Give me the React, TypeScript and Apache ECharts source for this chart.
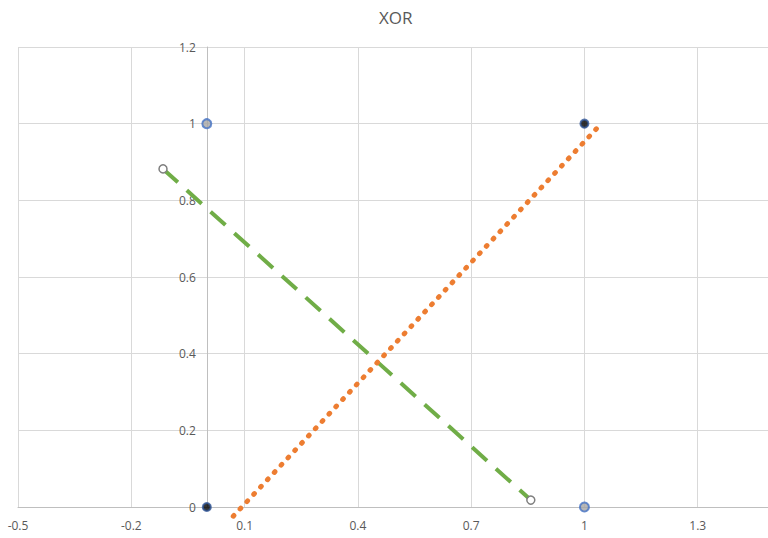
import React, { useEffect, useRef } from "react";
import * as echarts from "echarts";

// XOR truth-table points
const classOne: number[][] = [
  [0, 1],
  [1, 0],
];
const classZero: number[][] = [
  [0, 0],
  [1, 1],
];
// decision boundary lines
const greenBoundary: number[][] = [
  [-0.116, 0.882],
  [0.858, 0.018],
];
const orangeBoundary: number[][] = [
  [0.07, -0.024],
  [1.035, 0.99],
];

const xMin = -0.5;
const xMax = 1.6;
const xStep = 0.3;
const yMin = 0;
const yMax = 1.2;
const yStep = 0.2;

export default function App() {
  const ref = useRef<HTMLDivElement>(null);
  useEffect(() => {
    if (!ref.current) return;
    const chart = echarts.init(ref.current, undefined, { renderer: "svg" });
    const labelFont = { fontFamily: "Open Sans, Noto Sans, sans-serif", fontSize: 12, color: "#595959" };
    const gridLeft = 18;
    const gridRight = 1;
    const width = 812;
    const plotW = width - gridLeft - gridRight;
    const zeroOffset = ((0 - xMin) / (xMax - xMin)) * plotW;
    chart.setOption({
      animation: false,
      backgroundColor: "#ffffff",
      title: {
        text: "XOR",
        left: 374,
        top: 4,
        textStyle: { fontFamily: "Open Sans, Noto Sans, sans-serif", fontSize: 17, fontWeight: "normal", color: "#595959" },
      },
      grid: {
        left: gridLeft,
        right: gridRight,
        top: 47,
        bottom: 31,
        containLabel: false,
        outerBoundsMode: "none",
      },
      xAxis: {
        type: "value",
        min: xMin,
        max: xMax,
        interval: xStep,
        axisLine: { show: true, onZero: true, lineStyle: { color: "#bfbfbf", width: 1 } },
        axisTick: { show: false },
        axisLabel: {
          ...labelFont,
          margin: 12,
          showMaxLabel: false,
          formatter: (v: number) => String(Math.round(v * 10) / 10),
        },
        splitLine: { show: true, lineStyle: { color: "#d9d9d9", width: 1 } },
      },
      yAxis: {
        type: "value",
        min: yMin,
        max: yMax,
        interval: yStep,
        position: "left",
        offset: -zeroOffset,
        axisLine: { show: true, onZero: false, lineStyle: { color: "#bfbfbf", width: 1 } },
        axisTick: { show: false },
        axisLabel: { ...labelFont, margin: 11, formatter: (v: number) => String(Math.round(v * 10) / 10) },
        splitLine: { show: true, lineStyle: { color: "#d9d9d9", width: 1 } },
      },
      series: [
        {
          type: "line",
          data: greenBoundary,
          clip: false,
          symbol: "circle",
          symbolSize: 8,
          showAllSymbol: true,
          lineStyle: { color: "#70ad47", width: 4, type: [20, 12], cap: "butt" },
          itemStyle: { color: "#ffffff", borderColor: "#7f7f7f", borderWidth: 1.5 },
          z: 3,
        },
        {
          type: "line",
          data: orangeBoundary,
          clip: false,
          symbol: "none",
          lineStyle: { color: "#ed7d31", width: 5, type: [1, 9], cap: "round" },
          z: 3,
        },
        {
          type: "scatter",
          data: classOne,
          symbol: "circle",
          symbolSize: 9,
          itemStyle: { color: "#a5a5a5", borderColor: "#4472c4", borderWidth: 2 },
          z: 4,
        },
        {
          type: "scatter",
          data: classZero,
          symbol: "circle",
          symbolSize: 8,
          itemStyle: { color: "#000000", borderColor: "#2f5597", borderWidth: 2 },
          z: 4,
        },
      ],
    });
    return () => chart.dispose();
  }, []);
  return (
    <div
      ref={ref}
      style={{ position: "fixed", left: 0, top: 0, width: 812, height: 538, background: "#fff" }}
    />
  );
}
